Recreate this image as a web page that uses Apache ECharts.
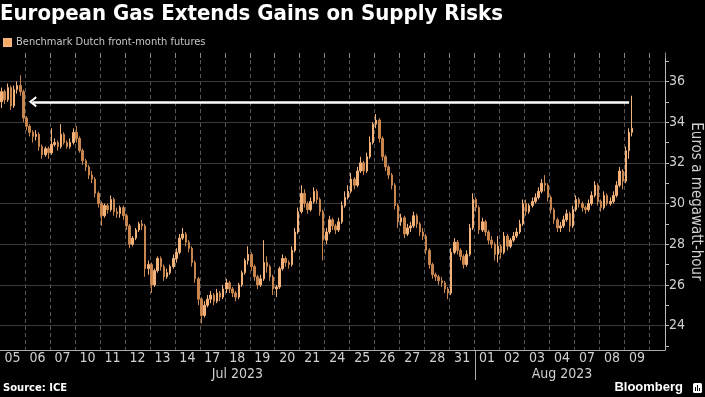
<!DOCTYPE html>
<html>
<head>
<meta charset="utf-8">
<script src="https://cdn.jsdelivr.net/npm/echarts@6.0.0/dist/echarts.min.js"></script>
<style>
  html, body { margin: 0; padding: 0; background: #000; }
  #chart { width: 705px; height: 397px; }
</style>
</head>
<body>
<div id="chart"></div>
<script>
// trading days shown on the x axis
const days = ['05', '06', '07', '10', '11', '12', '13', '14', '17', '18', '19', '20', '21',
  '24', '25', '26', '27', '28', '31', '01', '02', '03', '04', '07', '08', '09'];
// month captions sit under these day indexes, Aug starts at monthBreak
const monthLabels = ['Jul 2023', 'Aug 2023'];
const monthDays = [9, 22];
const monthBreak = 19;

const yTicks = [23, 24, 25, 26, 27, 28, 29, 30, 31, 32, 33, 34, 35, 36, 37];
const yLabels = [24, 26, 28, 30, 32, 34, 36];
const arrowLevel = 35;

// intraday candles, 8 per day: [open, close, low, high]
const candles = [
  [35.0,35.5,34.7,35.7],[35.5,35.1,34.9,35.6],[35.1,35.7,35.0,35.9],[35.7,34.8,34.6,35.8],[34.8,35.6,34.7,35.8],[35.6,35.8,35.4,36.0],[35.8,35.5,35.3,36.3],[35.5,34.2,34.0,35.6],
  [34.2,33.8,33.6,34.3],[33.8,33.5,33.3,33.9],[33.5,33.3,33.0,33.6],[33.3,33.4,33.1,33.6],[33.4,32.8,32.6,33.5],[32.8,32.4,32.2,32.9],[32.4,32.7,32.3,32.8],[32.7,32.5,32.2,32.8],
  [32.5,32.9,32.4,33.7],[32.9,33.0,32.8,33.2],[33.0,32.8,32.6,33.1],[32.8,33.4,32.7,33.9],[33.4,33.0,32.9,33.5],[33.0,32.8,32.7,33.1],[32.8,33.0,32.7,33.2],[33.0,33.5,32.9,33.7],
  [33.5,33.2,33.0,33.8],[33.2,32.6,32.5,33.3],[32.6,32.1,31.9,32.7],[32.1,31.8,31.6,32.2],[31.8,31.4,31.2,31.9],[31.4,31.2,31.0,31.6],[31.2,30.5,30.3,31.3],[30.5,30.0,29.8,30.6],
  [30.0,29.4,28.9,30.1],[29.4,29.9,29.3,30.0],[29.9,29.7,29.5,30.0],[29.7,30.2,29.6,30.4],[30.2,29.6,29.4,30.3],[29.6,29.5,29.3,29.8],[29.5,29.8,29.3,29.9],[29.8,29.4,29.2,29.9],
  [29.4,28.9,28.7,29.5],[28.9,28.0,27.8,29.0],[28.0,28.3,27.9,28.4],[28.3,28.7,28.2,28.8],[28.7,29.0,28.6,29.1],[29.0,28.9,28.7,29.2],[28.9,26.8,26.4,29.0],[26.8,27.0,26.5,27.2],
  [27.0,26.0,25.6,27.1],[26.0,26.7,25.9,26.8],[26.7,27.3,26.6,27.4],[27.3,26.9,26.7,27.4],[26.9,26.4,26.2,27.0],[26.4,26.6,26.3,26.8],[26.6,26.9,26.5,27.0],[26.9,27.3,26.8,27.5],
  [27.3,27.6,27.1,27.8],[27.6,28.3,27.5,28.5],[28.3,28.5,28.2,28.8],[28.5,28.1,27.9,28.6],[28.1,27.8,27.6,28.2],[27.8,27.1,26.9,27.9],[27.1,26.3,26.1,27.2],[26.3,25.3,25.0,26.4],
  [25.3,24.5,24.1,25.4],[24.5,25.0,24.4,25.2],[25.0,25.3,24.9,25.5],[25.3,25.5,25.1,25.7],[25.5,25.2,25.0,25.6],[25.2,25.6,25.1,25.8],[25.6,25.4,25.2,25.7],[25.4,25.8,25.3,26.0],
  [25.8,26.1,25.6,26.3],[26.1,25.8,25.6,26.2],[25.8,25.6,25.4,25.9],[25.6,25.4,25.2,25.7],[25.4,26.0,25.3,26.1],[26.0,26.6,25.9,26.7],[26.6,27.2,26.5,27.3],[27.2,27.5,27.0,27.9],
  [27.5,26.9,26.7,27.6],[26.9,26.4,26.2,27.0],[26.4,26.0,25.8,26.5],[26.0,26.3,25.9,26.5],[26.3,27.1,26.2,28.2],[27.1,26.9,26.6,27.4],[26.9,26.4,26.2,27.0],[26.4,25.8,25.5,26.5],
  [25.8,25.9,25.4,26.0],[25.9,26.8,25.8,26.9],[26.8,27.3,26.7,27.5],[27.3,27.1,26.9,27.4],[27.1,27.0,26.8,27.2],[27.0,27.7,26.9,27.9],[27.7,28.6,27.6,28.8],[28.6,29.6,28.5,29.8],
  [29.6,30.5,29.5,30.9],[30.5,30.0,29.8,30.7],[30.0,29.7,29.5,30.1],[29.7,30.1,29.6,30.3],[30.1,30.6,30.0,30.8],[30.6,30.2,30.0,30.7],[30.2,29.6,29.4,30.3],[29.6,28.2,27.2,29.7],
  [28.2,28.6,28.0,28.8],[28.6,29.2,28.5,29.4],[29.2,28.9,28.7,29.3],[28.9,28.7,28.5,29.0],[28.7,29.1,28.6,29.3],[29.1,29.9,29.0,30.1],[29.9,30.3,29.8,30.6],[30.3,30.6,30.2,30.9],
  [30.6,31.2,30.5,31.5],[31.2,30.9,30.7,31.3],[30.9,31.6,30.8,31.8],[31.6,32.0,31.5,32.3],[32.0,31.6,31.4,32.1],[31.6,32.3,31.5,32.5],[32.3,33.0,32.2,33.3],[33.0,33.9,32.9,34.0],
  [33.9,34.1,33.7,34.4],[34.1,33.2,33.0,34.2],[33.2,32.3,32.1,33.3],[32.3,31.8,31.6,32.4],[31.8,31.4,31.2,31.9],[31.4,30.9,30.7,31.5],[30.9,29.9,29.7,31.0],[29.9,29.1,28.8,30.0],
  [29.1,29.3,28.9,29.5],[29.3,28.5,28.3,29.4],[28.5,28.8,28.4,29.0],[28.8,28.9,28.6,29.1],[28.9,29.4,28.8,29.6],[29.4,29.0,28.8,29.5],[29.0,28.6,28.4,29.1],[28.6,28.4,28.2,28.8],
  [28.4,27.7,27.5,28.5],[27.7,27.0,26.8,27.8],[27.0,26.5,26.3,27.1],[26.5,26.4,26.2,26.6],[26.4,26.2,26.0,26.5],[26.2,26.1,25.9,26.4],[26.1,25.8,25.6,26.2],[25.8,25.6,25.3,25.9],
  [25.6,27.6,25.5,27.8],[27.6,28.1,27.5,28.3],[28.1,27.7,27.5,28.2],[27.7,27.4,27.2,27.8],[27.4,27.0,26.8,27.5],[27.0,27.5,26.9,27.7],[27.5,28.8,27.4,29.0],[28.8,30.2,28.7,30.5],
  [30.2,29.8,29.6,30.3],[29.8,28.7,28.5,29.9],[28.7,29.1,28.6,29.3],[29.1,28.6,28.4,29.2],[28.6,28.2,28.0,28.7],[28.2,28.0,27.8,28.4],[28.0,27.5,27.2,28.1],[27.5,27.9,27.1,28.4],
  [27.9,27.6,27.3,28.0],[27.6,28.4,27.5,28.6],[28.4,27.9,27.7,28.5],[27.9,28.2,27.8,28.3],[28.2,28.4,28.1,28.6],[28.4,28.6,28.3,28.8],[28.6,29.0,28.5,29.2],[29.0,30.0,28.9,30.2],
  [30.0,29.6,29.4,30.2],[29.6,29.9,29.5,30.0],[29.9,30.1,29.8,30.3],[30.1,30.3,30.0,30.5],[30.3,30.6,30.2,30.8],[30.6,31.0,30.5,31.2],[31.0,30.9,30.6,31.4],[30.9,30.3,30.1,31.0],
  [30.3,29.7,29.5,30.4],[29.7,29.2,29.0,29.8],[29.2,28.8,28.6,29.3],[28.8,28.9,28.6,29.1],[28.9,29.2,28.8,29.4],[29.2,29.5,29.1,29.7],[29.5,28.9,28.6,29.6],[28.9,29.7,28.8,29.9],
  [29.7,30.2,29.6,30.4],[30.2,30.0,29.8,30.3],[30.0,29.8,29.6,30.1],[29.8,29.7,29.5,29.9],[29.7,30.0,29.6,30.2],[30.0,30.4,29.9,30.6],[30.4,30.9,30.3,31.1],[30.9,30.1,29.9,31.0],
  [30.1,29.8,29.6,30.2],[29.8,30.4,29.7,30.6],[30.4,30.0,29.9,30.5],[30.0,30.1,29.9,30.3],[30.1,30.4,30.0,30.6],[30.4,30.9,30.3,31.1],[30.9,31.6,30.8,31.8],[31.6,31.1,30.7,31.7],
  [31.1,32.6,31.0,32.8],[32.6,33.5,32.2,33.7],[33.5,33.7,33.3,35.3]
];

const perDay = 8;
const padSlots = 5;
const yMin = 22.8;
const yMax = 37.4;
let slots = new Array();
for (let d = 0; d < days.length; d++) {
  for (let j = 0; j < perDay; j++) slots.push(days[d] + '-' + j);
}
for (let k = 0; k < padSlots; k++) slots.push('pad-' + k);

const labelFont = 'Liberation Sans Narrow, DejaVu Sans Condensed, sans-serif';

let chart = echarts.init(document.getElementById('chart'), null, {renderer: 'canvas'});
let option;

option = {
  backgroundColor: '#000',
  animation: false,
  title: {
    text: 'European Gas Extends Gains on Supply Risks',
    left: 0,
    top: 3,
    padding: 0,
    textStyle: {
      color: '#fff',
      fontSize: 22,
      fontWeight: 'bold',
      fontFamily: 'DejaVu Sans Condensed'
    }
  },
  legend: {
    data: [{name: 'Benchmark Dutch front-month futures', icon: 'rect', itemStyle: {color: '#f4a862'}}],
    left: 3,
    top: 37,
    padding: 0,
    itemWidth: 7,
    itemHeight: 7,
    textStyle: {color: '#c8c8c8', fontSize: 11, fontFamily: 'DejaVu Sans Condensed'}
  },
  grid: {left: 0, right: 40, top: 53, bottom: 47, containLabel: false, outerBoundsMode: 'none'},
  xAxis: [
    {
      type: 'category',
      data: slots,
      boundaryGap: true,
      axisLine: {show: true, lineStyle: {color: '#aaa', width: 1}},
      axisTick: {show: false},
      axisLabel: {
        interval: function (i) { return i % perDay === perDay / 2 && i < days.length * perDay; },
        formatter: function (value, i) {
          const d = Math.floor(i / perDay);
          const m = monthDays.indexOf(d);
          return m >= 0 ? days[d] + '\n{m|' + monthLabels[m] + '}' : days[d];
        },
        color: '#d0d0d0',
        fontSize: 14,
        fontFamily: labelFont,
        lineHeight: 14,
        margin: 1,
        padding: [0, 3, 0, 0],
        rich: {
          m: {color: '#d0d0d0', fontSize: 14, fontFamily: labelFont, lineHeight: 18}
        }
      },
      splitLine: {
        show: true,
        interval: function (i) { return i % perDay === 0 && i > 0; },
        lineStyle: {color: '#555', width: 1, type: [4, 3]}
      }
    },
    {
      type: 'category',
      data: slots,
      position: 'top',
      boundaryGap: true,
      axisLine: {show: false},
      axisTick: {
        show: true,
        inside: true,
        length: 5,
        interval: function (i) { return i % perDay === 0 && i > 0; },
        lineStyle: {color: '#888'}
      },
      axisLabel: {show: false},
      splitLine: {show: false}
    }
  ],
  yAxis: {
    type: 'value',
    position: 'right',
    min: yMin,
    max: yMax,
    axisLine: {show: true, lineStyle: {color: '#bbb', width: 1}},
    axisTick: {show: true, customValues: yTicks, length: 4, lineStyle: {color: '#bbb'}},
    axisLabel: {
      customValues: yLabels,
      color: '#d0d0d0',
      fontSize: 14,
      fontFamily: labelFont,
      margin: 4
    },
    splitLine: {show: false},
    name: 'Euros a megawatt-hour',
    nameLocation: 'middle',
    nameRotate: -90,
    nameGap: 23,
    nameMoveOverlap: false,
    nameTextStyle: {color: '#d0d0d0', fontSize: 15, fontFamily: 'DejaVu Sans Condensed'}
  },
  series: [
    {
      type: 'line',
      data: [],
      silent: true,
      z: 1,
      markLine: {
        silent: true,
        z: 1,
        symbol: 'none',
        label: {show: false},
        lineStyle: {color: '#3a3a3a', width: 1, type: 'solid'},
        data: yLabels.map(function (v) { return {yAxis: v}; })
      }
    },
    {
      name: 'Benchmark Dutch front-month futures',
      type: 'candlestick',
      z: 2,
      data: candles,
      barWidth: 2,
      itemStyle: {
        color: '#f2b27a',
        color0: '#c8864e',
        borderColor: '#f2b27a',
        borderColor0: '#c8864e',
        borderWidth: 1
      },
      markLine: {
        silent: true,
        z: 5,
        symbol: ['none', 'path://M0,8 L5.5,0 L11,8 L9.2,9.2 L5.5,3.8 L1.8,9.2 Z'],
        symbolSize: [11, 8],
        label: {show: false},
        lineStyle: {color: '#fff', width: 2.5, type: 'solid'},
        data: [[{coord: [201, arrowLevel]}, {coord: [10, arrowLevel]}]]
      }
    }
  ],
  graphic: [
    {
      id: 'source',
      type: 'text',
      left: 3,
      top: 383,
      style: {text: 'Source: ICE', fill: '#fff', font: 'bold 10px DejaVu Sans'}
    },
    {
      id: 'brand',
      type: 'text',
      right: 22,
      top: 381,
      style: {text: 'Bloomberg', fill: '#fff', font: 'bold 13px Liberation Sans'}
    },
    {
      id: 'logo',
      type: 'group',
      right: 3,
      top: 383,
      children: [
        {type: 'rect', shape: {x: 0, y: 0, width: 9, height: 10, r: 1.5}, style: {fill: '#fff'}},
        {type: 'rect', shape: {x: 2, y: 4, width: 1, height: 4}, style: {fill: '#000'}},
        {type: 'rect', shape: {x: 4, y: 2, width: 1, height: 6}, style: {fill: '#000'}},
        {type: 'rect', shape: {x: 6, y: 5, width: 1, height: 3}, style: {fill: '#000'}}
      ]
    }
  ]
};

chart.setOption(option);

// month separator below the axis, placed at the boundary before the first August slot
const slotA = chart.convertToPixel({xAxisIndex: 0}, 0);
const slotB = chart.convertToPixel({xAxisIndex: 0}, 1);
const sepX = Math.round(chart.convertToPixel({xAxisIndex: 0}, monthBreak * perDay) - (slotB - slotA) / 2) + 0.5;
const axisY = chart.convertToPixel({yAxisIndex: 0}, yMin);
chart.setOption({
  graphic: [{
    id: 'monthSep',
    type: 'line',
    shape: {x1: sepX, y1: axisY, x2: sepX, y2: axisY + 30},
    style: {stroke: '#aaa', lineWidth: 1}
  }]
});

window.addEventListener('resize', function () {
  chart.resize();
});
</script>
</body>
</html>
